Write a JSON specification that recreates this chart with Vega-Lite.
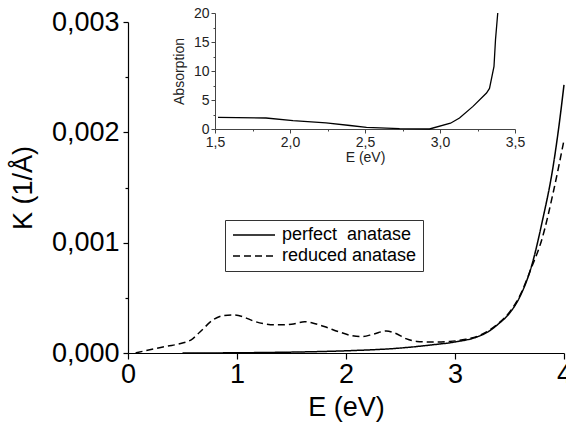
{
  "$schema": "https://vega.github.io/schema/vega-lite/v6.json",
  "width": 436,
  "height": 331,
  "autosize": {"type": "none"},
  "padding": {"left": 128, "top": 22, "right": 2, "bottom": 81},
  "background": "white",
  "config": {
    "locale": {"number": {"decimal": ",", "thousands": ".", "grouping": [3], "currency": ["", " €"]}},
    "view": {"stroke": null},
    "font": "Liberation Sans",
    "axis": {"grid": false, "domainColor": "black", "tickColor": "black", "labelColor": "black", "titleColor": "black", "titleFontWeight": "normal", "labelFont": "Liberation Sans", "titleFont": "Liberation Sans"}
  },
  "datasets": {
    "main": [
      {"E": 0.5, "K": 0.0, "series": "perfect  anatase"},
      {"E": 1.0, "K": 0.000002, "series": "perfect  anatase"},
      {"E": 1.5, "K": 0.000008, "series": "perfect  anatase"},
      {"E": 2.0, "K": 0.00002, "series": "perfect  anatase"},
      {"E": 2.5, "K": 0.000045, "series": "perfect  anatase"},
      {"E": 2.8, "K": 0.000075, "series": "perfect  anatase"},
      {"E": 3.0, "K": 0.0001, "series": "perfect  anatase"},
      {"E": 3.2, "K": 0.000145, "series": "perfect  anatase"},
      {"E": 3.3, "K": 0.00019, "series": "perfect  anatase"},
      {"E": 3.4, "K": 0.000265, "series": "perfect  anatase"},
      {"E": 3.5, "K": 0.00036, "series": "perfect  anatase"},
      {"E": 3.6, "K": 0.00052, "series": "perfect  anatase"},
      {"E": 3.7, "K": 0.00078, "series": "perfect  anatase"},
      {"E": 3.8, "K": 0.00119, "series": "perfect  anatase"},
      {"E": 3.9, "K": 0.00169, "series": "perfect  anatase"},
      {"E": 3.95, "K": 0.00203, "series": "perfect  anatase"},
      {"E": 4.0, "K": 0.00243, "series": "perfect  anatase"},
      {"E": 0.07, "K": 0.0, "series": "reduced anatase"},
      {"E": 0.2, "K": 0.00003, "series": "reduced anatase"},
      {"E": 0.35, "K": 0.00006, "series": "reduced anatase"},
      {"E": 0.5, "K": 0.00009, "series": "reduced anatase"},
      {"E": 0.58, "K": 0.00012, "series": "reduced anatase"},
      {"E": 0.66, "K": 0.00019, "series": "reduced anatase"},
      {"E": 0.78, "K": 0.0003, "series": "reduced anatase"},
      {"E": 0.88, "K": 0.00034, "series": "reduced anatase"},
      {"E": 0.96, "K": 0.000345, "series": "reduced anatase"},
      {"E": 1.05, "K": 0.00033, "series": "reduced anatase"},
      {"E": 1.15, "K": 0.00029, "series": "reduced anatase"},
      {"E": 1.25, "K": 0.000265, "series": "reduced anatase"},
      {"E": 1.36, "K": 0.000255, "series": "reduced anatase"},
      {"E": 1.5, "K": 0.00026, "series": "reduced anatase"},
      {"E": 1.62, "K": 0.000284, "series": "reduced anatase"},
      {"E": 1.7, "K": 0.00027, "series": "reduced anatase"},
      {"E": 1.8, "K": 0.00024, "series": "reduced anatase"},
      {"E": 1.94, "K": 0.00019, "series": "reduced anatase"},
      {"E": 2.05, "K": 0.000158, "series": "reduced anatase"},
      {"E": 2.14, "K": 0.000148, "series": "reduced anatase"},
      {"E": 2.25, "K": 0.00017, "series": "reduced anatase"},
      {"E": 2.37, "K": 0.0002, "series": "reduced anatase"},
      {"E": 2.45, "K": 0.00018, "series": "reduced anatase"},
      {"E": 2.55, "K": 0.00013, "series": "reduced anatase"},
      {"E": 2.65, "K": 0.000105, "series": "reduced anatase"},
      {"E": 2.8, "K": 0.0001, "series": "reduced anatase"},
      {"E": 2.95, "K": 0.000105, "series": "reduced anatase"},
      {"E": 3.1, "K": 0.000125, "series": "reduced anatase"},
      {"E": 3.25, "K": 0.00017, "series": "reduced anatase"},
      {"E": 3.4, "K": 0.00027, "series": "reduced anatase"},
      {"E": 3.5, "K": 0.00037, "series": "reduced anatase"},
      {"E": 3.6, "K": 0.00053, "series": "reduced anatase"},
      {"E": 3.7, "K": 0.00077, "series": "reduced anatase"},
      {"E": 3.8, "K": 0.00104, "series": "reduced anatase"},
      {"E": 3.9, "K": 0.00145, "series": "reduced anatase"},
      {"E": 4.0, "K": 0.00193, "series": "reduced anatase"}
    ],
    "inset": [
      {"E": 1.52, "A": 2.0},
      {"E": 1.84, "A": 1.9},
      {"E": 2.02, "A": 1.45},
      {"E": 2.24, "A": 1.05},
      {"E": 2.4, "A": 0.6},
      {"E": 2.51, "A": 0.28},
      {"E": 2.73, "A": 0.05},
      {"E": 2.93, "A": 0.0},
      {"E": 3.07, "A": 1.0},
      {"E": 3.13, "A": 1.9},
      {"E": 3.22, "A": 3.9},
      {"E": 3.31, "A": 6.2},
      {"E": 3.33, "A": 7.0},
      {"E": 3.36, "A": 10.8},
      {"E": 3.37, "A": 15.4},
      {"E": 3.385, "A": 20.0}
    ]
  },
  "layer": [
    {
      "data": {"name": "main"},
      "mark": {"type": "line", "color": "black", "strokeWidth": 1.5, "interpolate": "monotone"},
      "encoding": {
        "x": {
          "field": "E", "type": "quantitative",
          "scale": {"domain": [0, 4], "nice": false, "zero": false},
          "axis": {
            "title": "E (eV)", "values": [0, 0.5, 1, 1.5, 2, 2.5, 3, 3.5, 4], "format": "d",
            "labelExpr": "datum.value % 1 === 0 ? datum.label : ''",
            "tickSize": {"condition": {"test": "datum.value % 1 !== 0", "value": 3}, "value": 6},
            "labelFontSize": 27, "titleFontSize": 27, "labelPadding": 2, "titlePadding": 7,
            "domainWidth": 1.2, "tickWidth": 1.2, "labelFlush": false, "labelOverlap": false
          }
        },
        "y": {
          "field": "K", "type": "quantitative",
          "scale": {"domain": [0, 0.003], "nice": false},
          "axis": {
            "title": "K (1/Å)", "values": [0, 0.0005, 0.001, 0.0015, 0.002, 0.0025, 0.003], "format": ".3f",
            "labelExpr": "round(datum.value * 10000) % 10 !== 0 ? '' : datum.label",
            "tickSize": {"condition": {"test": "round(datum.value * 10000) % 10 !== 0", "value": 3}, "value": 5},
            "labelFontSize": 27, "titleFontSize": 27, "labelPadding": 4, "titlePadding": 14,
            "domainWidth": 1.2, "tickWidth": 1.2, "labelFlush": false, "labelOverlap": false
          }
        },
        "strokeDash": {
          "field": "series", "type": "nominal",
          "scale": {"domain": ["perfect  anatase", "reduced anatase"], "range": [[1, 0], [7, 4]]},
          "legend": {
            "title": null, "orient": "none", "legendX": 97, "legendY": 198,
            "fillColor": "white", "strokeColor": "#333", "padding": 6,
            "symbolType": "M-1,0H5", "symbolSize": 196, "symbolStrokeWidth": 1.5, "symbolStrokeColor": "black", "symbolFillColor": "transparent",
            "labelFontSize": 18, "labelColor": "black", "labelOffset": 33, "rowPadding": 3,
            "labelExpr": "replace(datum.label, '  ', '\u00a0 ')"
          }
        }
      }
    },
    {
      "data": {"name": "inset"},
      "mark": {"type": "line", "color": "black", "strokeWidth": 1.3},
      "encoding": {
        "x": {
          "field": "E", "type": "quantitative",
          "scale": {"domain": [1.5, 3.5], "nice": false, "zero": false, "range": [87, 387]},
          "axis": {
            "orient": "bottom", "offset": -224, "title": "E (eV)",
            "values": [1.5, 1.75, 2, 2.25, 2.5, 2.75, 3, 3.25, 3.5], "format": ".1f",
            "labelExpr": "round(datum.value * 4) % 2 !== 0 ? '' : datum.label",
            "tickSize": {"condition": {"test": "round(datum.value * 4) % 2 !== 0", "value": 2}, "value": 4},
            "labelFontSize": 14, "titleFontSize": 14, "labelPadding": 2, "titlePadding": 1,
            "domainColor": "#444", "tickColor": "#444", "labelColor": "#222", "titleColor": "#222",
            "labelFlush": false, "labelOverlap": false
          }
        },
        "y": {
          "field": "A", "type": "quantitative",
          "scale": {"domain": [0, 20], "nice": false, "range": [107, -9]},
          "axis": {
            "orient": "left", "offset": -87, "title": "Absorption",
            "values": [0, 2.5, 5, 7.5, 10, 12.5, 15, 17.5, 20], "format": "d",
            "labelExpr": "datum.value % 5 !== 0 ? '' : datum.label",
            "tickSize": {"condition": {"test": "datum.value % 5 !== 0", "value": 2}, "value": 4},
            "labelFontSize": 14, "titleFontSize": 14, "labelPadding": 2, "titlePadding": 7,
            "domainColor": "#444", "tickColor": "#444", "labelColor": "#222", "titleColor": "#222",
            "labelFlush": false, "labelOverlap": false
          }
        }
      }
    }
  ],
  "resolve": {
    "scale": {"x": "independent", "y": "independent"},
    "axis": {"x": "independent", "y": "independent"}
  }
}
